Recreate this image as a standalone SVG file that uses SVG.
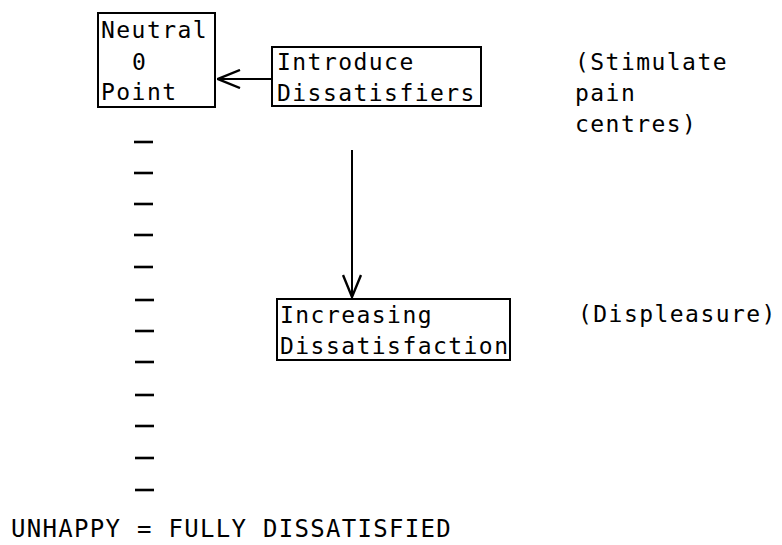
<svg xmlns="http://www.w3.org/2000/svg" width="782" height="545" viewBox="0 0 782 545">
  <style>
    .t { font-family: "DejaVu Sans Mono", "Liberation Mono", monospace; font-size: 23px; letter-spacing: 1.45px; fill: #000; }
    .big { font-size: 24px; letter-spacing: 1.3px; }
    .box { fill: #fff; stroke: #000; stroke-width: 2; }
    .wire { fill: none; stroke: #000; stroke-width: 2; }
    .tick { stroke: #000; stroke-width: 2.6; }
  </style>
  <defs>
    <marker id="vee" viewBox="0 0 24 20" refX="23" refY="10" markerWidth="24" markerHeight="20" markerUnits="userSpaceOnUse" orient="auto">
      <path d="M1,1 L23,10 L1,19" fill="none" stroke="#000" stroke-width="2.4"/>
    </marker>
  </defs>

  <rect width="782" height="545" fill="#fff"/>

  <!-- connectors -->
  <g id="connectors">
    <line class="wire" x1="272" y1="79" x2="218" y2="79" marker-end="url(#vee)"/>
    <line class="wire" x1="352" y1="150" x2="352" y2="297" marker-end="url(#vee)"/>
  </g>

  <!-- neutral point -->
  <g id="neutral">
    <rect class="box" x="98" y="13" width="117" height="94"/>
    <text class="t" x="101" y="38">Neutral</text>
    <text class="t" x="132" y="70">0</text>
    <text class="t" x="101" y="100">Point</text>
  </g>

  <!-- introduce dissatisfiers -->
  <g id="introduce">
    <rect class="box" x="272" y="47" width="209" height="59"/>
    <text class="t" x="277" y="70">Introduce</text>
    <text class="t" x="277" y="101">Dissatisfiers</text>
  </g>

  <!-- stimulate note -->
  <g id="stimulate">
    <text class="t" x="575" y="70">(Stimulate</text>
    <text class="t" x="575" y="101">pain</text>
    <text class="t" x="575" y="132">centres)</text>
  </g>

  <!-- increasing dissatisfaction -->
  <g id="increasing">
    <rect class="box" x="277" y="299" width="233" height="61"/>
    <text class="t" x="280" y="323">Increasing</text>
    <text class="t" x="280" y="354">Dissatisfaction</text>
  </g>

  <!-- displeasure note -->
  <g id="displeasure">
    <text class="t" x="578" y="322">(Displeasure)</text>
  </g>

  <!-- scale of dashes -->
  <g id="scale">
    <line class="tick" x1="134" y1="142" x2="153" y2="142"/>
    <line class="tick" x1="134" y1="173" x2="153" y2="173"/>
    <line class="tick" x1="134" y1="204" x2="153" y2="204"/>
    <line class="tick" x1="134" y1="235" x2="153" y2="235"/>
    <line class="tick" x1="134" y1="267" x2="153" y2="267"/>
    <line class="tick" x1="135" y1="300" x2="154" y2="300"/>
    <line class="tick" x1="135" y1="331" x2="154" y2="331"/>
    <line class="tick" x1="135" y1="362" x2="154" y2="362"/>
    <line class="tick" x1="135" y1="395" x2="154" y2="395"/>
    <line class="tick" x1="135" y1="426" x2="154" y2="426"/>
    <line class="tick" x1="135" y1="458" x2="154" y2="458"/>
    <line class="tick" x1="135" y1="490" x2="154" y2="490"/>
  </g>

  <!-- bottom caption -->
  <g id="caption">
    <text class="t big" x="11" y="537">UNHAPPY = FULLY DISSATISFIED</text>
  </g>
</svg>
